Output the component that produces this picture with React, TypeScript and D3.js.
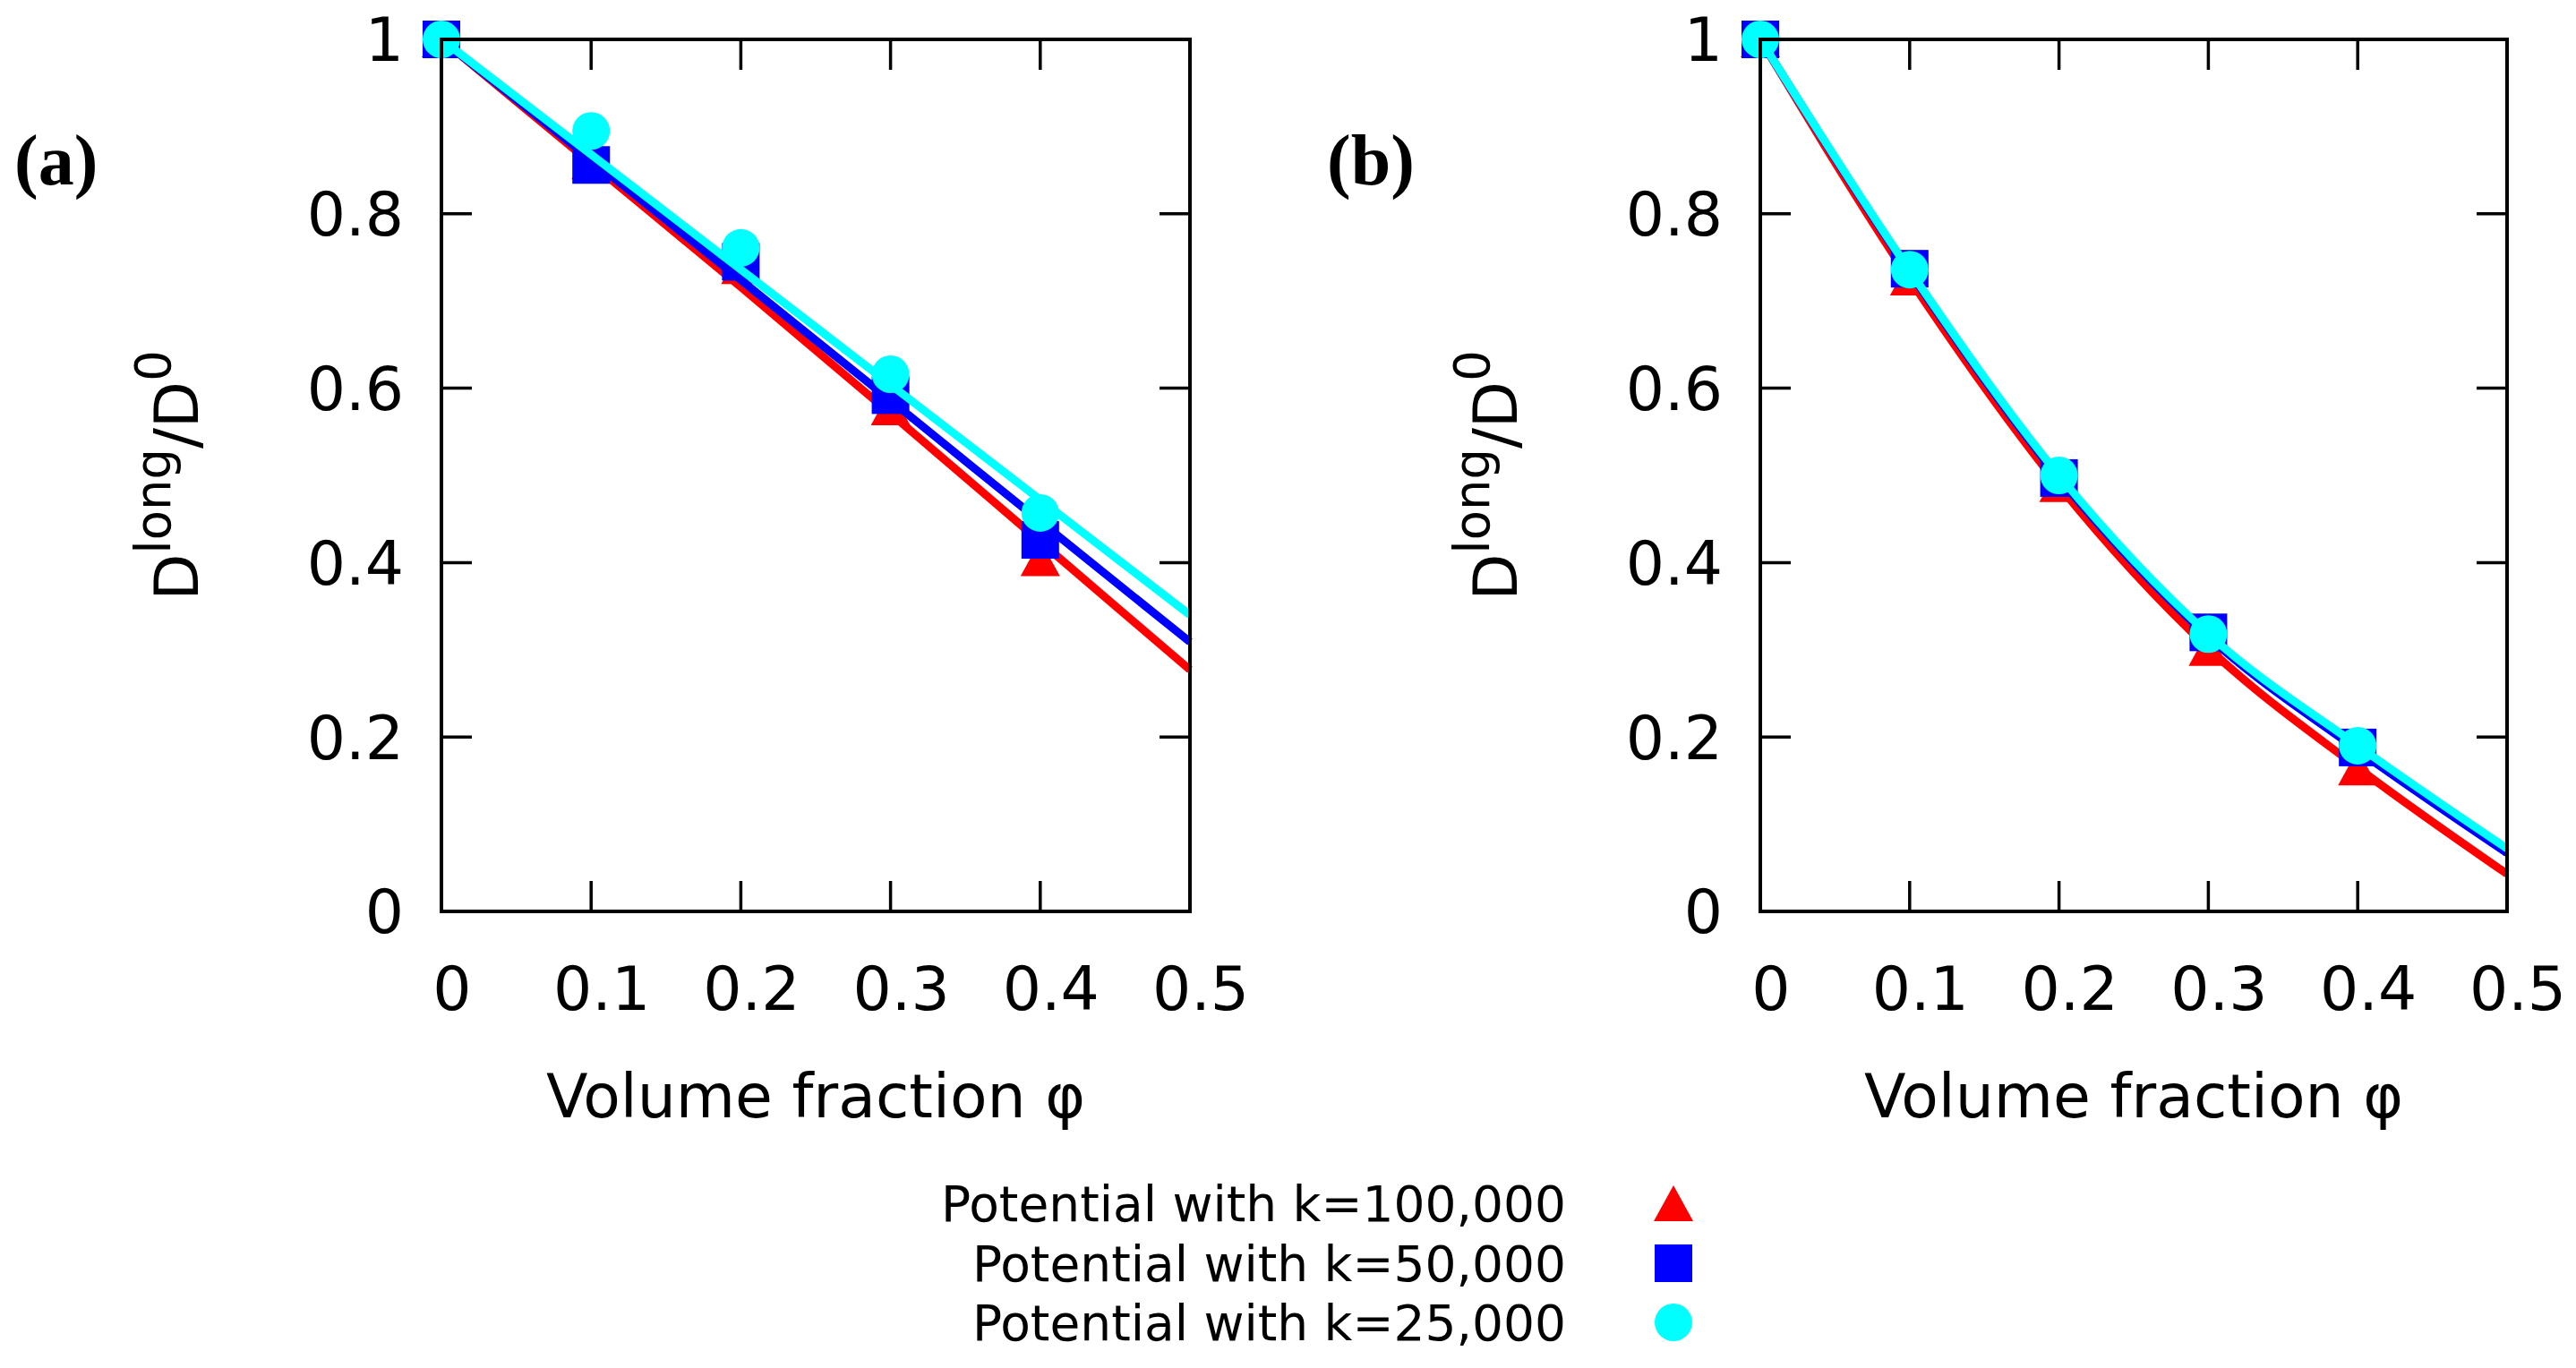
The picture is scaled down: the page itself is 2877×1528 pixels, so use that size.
import React from "react";
import * as d3 from "d3";

// ---- data ----
const phi = [0, 0.1, 0.2, 0.3, 0.4];
const fitPhi = [0, 0.1, 0.2, 0.3, 0.4, 0.5];

// Panel (a)
const aK100 = [1, 0.86, 0.74, 0.578, 0.405];
const aK50 = [1, 0.856, 0.745, 0.592, 0.426];
const aK25 = [1, 0.895, 0.761, 0.616, 0.457];
const aFit100 = [1, 0.858, 0.716, 0.571, 0.424, 0.277];
const aFit50 = [1, 0.862, 0.724, 0.586, 0.447, 0.309];
const aFit25 = [1, 0.868, 0.736, 0.604, 0.472, 0.34];

// Panel (b)
const bK100 = [1, 0.727, 0.49, 0.302, 0.165];
const bK50 = [1, 0.737, 0.497, 0.32, 0.188];
const bK25 = [1, 0.736, 0.5, 0.318, 0.19];
const bFit100 = [1, 0.725, 0.488, 0.302, 0.165, 0.043];
const bFit50 = [1, 0.733, 0.497, 0.315, 0.185, 0.067];
const bFit25 = [1, 0.735, 0.5, 0.318, 0.19, 0.072];

const xTicks = [0, 0.1, 0.2, 0.3, 0.4, 0.5];
const yTicks = [0, 0.2, 0.4, 0.6, 0.8, 1];
const xTickLabels = ["0", "0.1", "0.2", "0.3", "0.4", "0.5"];
const yTickLabels = ["0", "0.2", "0.4", "0.6", "0.8", "1"];

const seriesNames = [
  "Potential with k=100,000",
  "Potential with k=50,000",
  "Potential with k=25,000",
];
const seriesColors = ["#ff0000", "#0000ff", "#00ffff"];
const seriesShapes = ["triangle", "square", "circle"];

const W = 2877;
const H = 1528;
const FONT = "'DejaVu Sans', sans-serif";

function Marker({ shape, x, y, color }: { shape: string; x: number; y: number; color: string }) {
  if (shape === "triangle") {
    const w = 44, h = 40;
    return (
      <path
        d={`M${x},${y - h / 2}L${x + w / 2},${y + h / 2}L${x - w / 2},${y + h / 2}Z`}
        fill={color}
      />
    );
  }
  if (shape === "square") {
    const s = 42;
    return <rect x={x - s / 2} y={y - s / 2} width={s} height={s} fill={color} />;
  }
  return <circle cx={x} cy={y} r={21} fill={color} />;
}

function Panel({
  left,
  right,
  label,
  labelX,
  points,
  fits,
}: {
  left: number;
  right: number;
  label: string;
  labelX: number;
  points: number[][];
  fits: number[][];
}) {
  const top = 44;
  const bottom = 1018;
  const x = d3.scaleLinear().domain([0, 0.5]).range([left, right]);
  const y = d3.scaleLinear().domain([0, 1]).range([bottom, top]);
  const line = d3
    .line<number>()
    .x((_, i) => x(fitPhi[i]))
    .y((d) => y(d))
    .curve(d3.curveMonotoneX);
  const tickLen = 34;
  const fs = 68;
  const cx = (left + right) / 2;
  const cy = (top + bottom) / 2;

  return (
    <g>
      <defs>
        <clipPath id={`clip-${label}`}>
          <rect x={left} y={top - 30} width={right - left} height={bottom - top + 30} />
        </clipPath>
      </defs>
      {/* ticks */}
      {xTicks.slice(1, -1).map((t) => (
        <g key={`xt${t}`} stroke="#000" strokeWidth={3.5}>
          <line x1={x(t)} x2={x(t)} y1={bottom} y2={bottom - tickLen} />
          <line x1={x(t)} x2={x(t)} y1={top} y2={top + tickLen} />
        </g>
      ))}
      {yTicks.slice(1, -1).map((t) => (
        <g key={`yt${t}`} stroke="#000" strokeWidth={3.5}>
          <line x1={left} x2={left + tickLen} y1={y(t)} y2={y(t)} />
          <line x1={right} x2={right - tickLen} y1={y(t)} y2={y(t)} />
        </g>
      ))}
      {/* tick labels */}
      {xTicks.map((t, i) => (
        <text
          key={`xl${t}`}
          x={x(t) + 12}
          y={1128}
          fontFamily={FONT}
          fontSize={fs}
          textAnchor="middle"
          fill="#000"
        >
          {xTickLabels[i]}
        </text>
      ))}
      {yTicks.map((t, i) => (
        <text
          key={`yl${t}`}
          x={left - 42}
          y={y(t)}
          dy="0.36em"
          fontFamily={FONT}
          fontSize={fs}
          textAnchor="end"
          fill="#000"
        >
          {yTickLabels[i]}
        </text>
      ))}
      {/* axis labels */}
      <text x={cx} y={1248} fontFamily={FONT} fontSize={fs} textAnchor="middle" fill="#000">
        Volume fraction φ
      </text>
      <text
        transform={`translate(${left - 272},${cy}) rotate(-90)`}
        fontFamily={FONT}
        fontSize={fs}
        textAnchor="middle"
        fill="#000"
      >
        D
        <tspan fontSize={fs * 0.8} dy={-fs * 0.45}>
          long
        </tspan>
        <tspan dy={fs * 0.45}>/D</tspan>
        <tspan fontSize={fs * 0.8} dy={-fs * 0.45}>
          0
        </tspan>
      </text>
      {/* panel label */}
      <text
        x={labelX}
        y={206}
        fontFamily="'Liberation Serif', serif"
        fontWeight="bold"
        fontSize={80}
        fill="#000"
      >
        {label}
      </text>
      {/* series */}
      <g clipPath={`url(#clip-${label})`}>
        {points.map((vals, s) => (
          <g key={`s${s}`}>
            {vals.map((v, i) => (
              <Marker key={i} shape={seriesShapes[s]} x={x(phi[i])} y={y(v)} color={seriesColors[s]} />
            ))}
            <path d={line(fits[s]) || ""} fill="none" stroke={seriesColors[s]} strokeWidth={9} />
          </g>
        ))}
      </g>
      {/* frame */}
      <rect x={left} y={top} width={right - left} height={bottom - top} fill="none" stroke="#000" strokeWidth={4} />
    </g>
  );
}

export default function App() {
  const legendTextX = 1749;
  const legendMarkX = 1869;
  const legendRows = [1344, 1411, 1477];
  return (
    <svg
      width={W}
      height={H}
      viewBox={`0 0 ${W} ${H}`}
      style={{ position: "fixed", left: 0, top: 0, background: "#fff" }}
    >
      <rect x={0} y={0} width={W} height={H} fill="#fff" />
      <Panel
        left={493}
        right={1329}
        label="(a)"
        labelX={16}
        points={[aK100, aK50, aK25]}
        fits={[aFit100, aFit50, aFit25]}
      />
      <Panel
        left={1966}
        right={2800}
        label="(b)"
        labelX={1482}
        points={[bK100, bK50, bK25]}
        fits={[bFit100, bFit50, bFit25]}
      />
      {seriesNames.map((name, i) => (
        <g key={name}>
          <text
            x={legendTextX}
            y={legendRows[i]}
            dy="0.36em"
            fontFamily={FONT}
            fontSize={55}
            textAnchor="end"
            fill="#000"
          >
            {name}
          </text>
          <Marker shape={seriesShapes[i]} x={legendMarkX} y={legendRows[i]} color={seriesColors[i]} />
        </g>
      ))}
    </svg>
  );
}
